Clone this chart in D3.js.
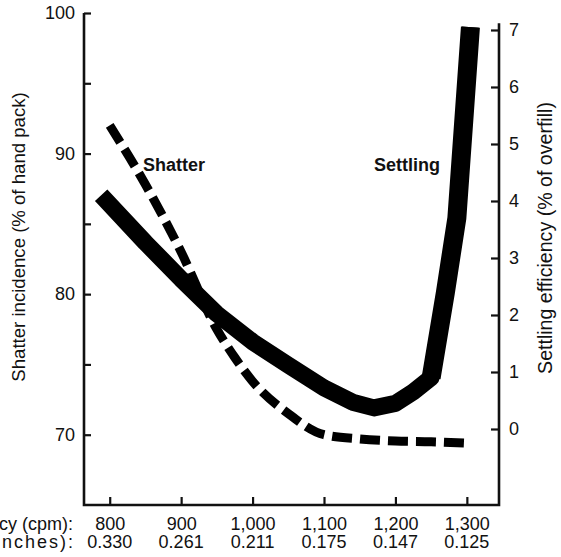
<!DOCTYPE html>
<html>
<head>
<meta charset="utf-8">
<script src="https://cdn.jsdelivr.net/npm/d3@7"></script>
<style>
    body { margin: 0; background: #fff; }
    text { font-family: "Liberation Sans", Arial, sans-serif; fill: #111; }
</style>
</head>
<body>
<div id="chart"></div>
<script>
// tick values and labels
const xTicks = [800, 900, 1000, 1100, 1200, 1300];
const cpmLabels = ["800", "900", "1,000", "1,100", "1,200", "1,300"];
const inchLabels = ["0.330", "0.261", "0.211", "0.175", "0.147", "0.125"];
const leftTicks = [70, 80, 90, 100];
const leftMinor = [75, 85, 95];
const rightTicks = [0, 1, 2, 3, 4, 5, 6, 7];

// Shatter incidence (% of hand pack), left axis - dashed
const shatterFreq = [800, 850, 900, 950, 975, 1000, 1050, 1100, 1150, 1200, 1250, 1300];
const shatterPct = [92.0, 87.8, 83.0, 77.5, 75.5, 73.8, 71.5, 70.0, 69.7, 69.55, 69.5, 69.4];

// Settling efficiency (% of overfill), right axis - thick solid
const settleFreq = [788, 850, 900, 950, 1000, 1050, 1100, 1140, 1170, 1200, 1225, 1250, 1270, 1286, 1305];
const settlePct = [4.1, 3.27, 2.63, 2.02, 1.53, 1.12, 0.72, 0.47, 0.37, 0.45, 0.65, 0.9, 2.4, 3.7, 7.05];

var width = 561, height = 557;
var pLeft = 84, pRight = 499, pBottom = 505, pTop = 13;

var svg = d3.select("#chart")
    .append("svg")
    .attr("width", width)
    .attr("height", height);

var x = d3.scaleLinear().domain([764, 1345]).range([pLeft, pRight]);
var yL = d3.scaleLinear().domain([65, 100]).range([pBottom, pTop]);
var yR = d3.scaleLinear().domain([-4 / 3, 7.298]).range([pBottom, pTop]);

// frame: left, right and bottom axis lines
svg.append("path")
    .attr("d", "M" + pLeft + "," + pTop + "V" + pBottom + "H" + pRight + "V" + yR(7.12))
    .attr("fill", "none")
    .attr("stroke", "#111")
    .attr("stroke-width", 2.6);

// left axis
svg.append("g")
    .attr("transform", "translate(" + pLeft + ",0)")
    .call(d3.axisLeft(yL).tickValues(leftTicks).tickSize(-7).tickPadding(9));
svg.append("g")
    .attr("transform", "translate(" + pLeft + ",0)")
    .call(d3.axisLeft(yL).tickValues(leftMinor).tickSize(-7).tickFormat(""));

// right axis
svg.append("g")
    .attr("transform", "translate(" + pRight + ",0)")
    .call(d3.axisRight(yR).tickValues(rightTicks).tickSize(-8).tickPadding(10));

// bottom axis
svg.append("g")
    .attr("transform", "translate(0," + pBottom + ")")
    .call(d3.axisBottom(x).tickValues(xTicks).tickSize(-8).tickPadding(12)
        .tickFormat(function (d, i) { return cpmLabels[i]; }));

svg.selectAll(".domain").remove();
svg.selectAll(".tick line").attr("stroke", "#111").attr("stroke-width", 2.2);
svg.selectAll(".tick text")
    .attr("fill", "#111")
    .style("font-size", "18px")
    .style("font-family", "'Liberation Sans', Arial, sans-serif");

// second row of x labels
svg.selectAll(".inch")
    .data(xTicks)
    .enter()
    .append("text")
    .attr("class", "inch")
    .attr("x", function (d) { return x(d); })
    .attr("y", 548)
    .attr("text-anchor", "middle")
    .style("font-size", "18px")
    .text(function (d, i) { return inchLabels[i]; });

svg.append("text")
    .attr("x", 73).attr("y", 530)
    .attr("text-anchor", "end")
    .style("font-size", "18px")
    .text("Frequency (cpm):");
svg.append("text")
    .attr("x", 75).attr("y", 548)
    .attr("text-anchor", "end")
    .style("font-size", "18px")
    .style("letter-spacing", "2px")
    .text("Stroke (inches):");

// axis titles
svg.append("text")
    .attr("transform", "translate(25,237) rotate(-90)")
    .attr("text-anchor", "middle")
    .style("font-size", "18.6px")
    .text("Shatter incidence (% of hand pack)");
svg.append("text")
    .attr("transform", "translate(552,238) rotate(-90)")
    .attr("text-anchor", "middle")
    .style("font-size", "19.6px")
    .text("Settling efficiency (% of overfill)");

// settling curve
var settleLine = d3.line()
    .x(function (d) { return x(d[0]); })
    .y(function (d) { return yR(d[1]); });
var settlePts = d3.zip(settleFreq, settlePct);
svg.append("path")
    .datum(settlePts)
    .attr("d", settleLine)
    .attr("fill", "none")
    .attr("stroke", "#000")
    .attr("stroke-width", 17)
    .attr("stroke-linejoin", "round");
// the steep rise is drawn a bit heavier
svg.append("path")
    .datum(settlePts.slice(-4))
    .attr("d", settleLine)
    .attr("fill", "none")
    .attr("stroke", "#000")
    .attr("stroke-width", 19)
    .attr("stroke-linejoin", "round");

// shatter curve
var shatterLine = d3.line()
    .curve(d3.curveMonotoneX)
    .x(function (d) { return x(d[0]); })
    .y(function (d) { return yL(d[1]); });
svg.append("path")
    .datum(d3.zip(shatterFreq, shatterPct))
    .attr("d", shatterLine)
    .attr("fill", "none")
    .attr("stroke", "#000")
    .attr("stroke-width", 9)
    .attr("stroke-dasharray", "20,8");

// curve labels
svg.append("text")
    .attr("x", 143).attr("y", 171)
    .style("font-size", "18px")
    .style("font-weight", "bold")
    .text("Shatter");
svg.append("text")
    .attr("x", 374).attr("y", 171)
    .style("font-size", "18px")
    .style("font-weight", "bold")
    .text("Settling");
</script>
</body>
</html>
